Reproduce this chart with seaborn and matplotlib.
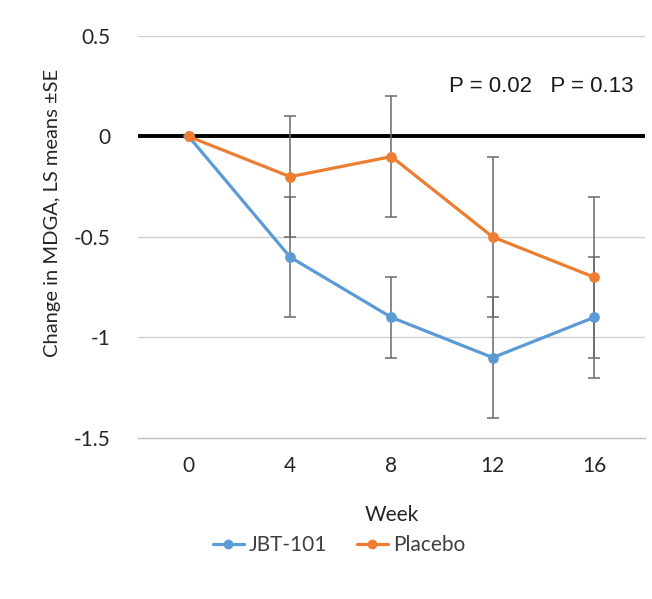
import matplotlib
matplotlib.use("Agg")
import matplotlib.pyplot as plt
import numpy as np
import pandas as pd
import seaborn as sns

weeks = ["0", "4", "8", "12", "16"]
groups = ["JBT-101", "Placebo"]
jbt_mean = [0.0, -0.6, -0.9, -1.1, -0.9]
jbt_se = [0.0, 0.3, 0.2, 0.3, 0.3]
placebo_mean = [0.0, -0.2, -0.1, -0.5, -0.7]
placebo_se = [0.0, 0.3, 0.3, 0.4, 0.4]
y_ticks = [0.5, 0, -0.5, -1, -1.5]
y_tick_labels = ["0.5", "0", "-0.5", "-1", "-1.5"]
p_text = "P = 0.02   P = 0.13"

colors = {"JBT-101": "#5B9BD5", "Placebo": "#ED7D31"}

df = pd.DataFrame(
    {
        "week": weeks * 2,
        "group": [groups[0]] * len(weeks) + [groups[1]] * len(weeks),
        "mean": jbt_mean + placebo_mean,
        "se": jbt_se + placebo_se,
    }
)

sns.set_style("white")
plt.rcParams["font.family"] = ["Lato", "DejaVu Sans"]

fig = plt.figure(figsize=(6.52, 5.99), dpi=100)
ax = fig.add_axes([0.2117, 0.2688, 0.7773, 0.6711])

# gridlines and zero line
for yv in y_ticks:
    if yv in (0, -1.5):
        continue
    ax.axhline(yv, color="#d0d0d0", linewidth=1.0, zorder=0)
ax.axhline(0, color="black", linewidth=2.8, zorder=1)

pos = np.arange(len(weeks))
for grp, mean, se in [("JBT-101", jbt_mean, jbt_se), ("Placebo", placebo_mean, placebo_se)]:
    ax.errorbar(pos, mean, yerr=se, fmt="none", ecolor="#6a6a6a",
                elinewidth=1.1, capsize=4, capthick=1.1, zorder=2)

sns.pointplot(
    data=df, x="week", y="mean", hue="group", order=weeks, hue_order=groups,
    palette=colors, errorbar=None, markers="o", linestyles="-",
    markersize=6, linewidth=2.3, ax=ax, legend=False, zorder=3,
)

ax.set_xlim(-0.5, len(weeks) - 0.5)
ax.set_ylim(-1.5, 0.5)
ax.set_yticks(y_ticks)
ax.set_yticklabels(y_tick_labels)
ax.set_xticks(pos)
ax.set_xticklabels(weeks)
ax.set_xticks(np.arange(-0.5, len(weeks)), minor=True)
ax.tick_params(axis="x", which="major", length=0, pad=13, labelsize=15, labelcolor="#262626")
ax.tick_params(axis="x", which="minor", length=7, width=1.0, color="#bfbfbf", direction="out")
ax.tick_params(axis="y", length=0, pad=20, labelsize=15, labelcolor="#262626")

for side in ["top", "right", "left"]:
    ax.spines[side].set_visible(False)
ax.spines["bottom"].set_color("#bfbfbf")
ax.spines["bottom"].set_linewidth(1.0)

ax.set_xlabel("Week", fontsize=15, color="#262626", labelpad=21)
ax.set_ylabel("Change in MDGA, LS means \u00b1SE", fontsize=14.5, color="#262626")
ax.yaxis.set_label_coords(-0.152, 0.56)

ax.text(0.977, 0.875, p_text, transform=ax.transAxes, ha="right", va="center",
        fontsize=16, family=["Liberation Sans", "DejaVu Sans"], color="#1a1a1a")

handles = [
    plt.Line2D([0], [0], color=colors[g], marker="o", markersize=6, linewidth=2.3)
    for g in groups
]
fig.legend(handles, groups, loc="center", bbox_to_anchor=(0.52, 0.09), ncol=2,
           frameon=False, fontsize=15, handlelength=1.5, handletextpad=0.25,
           columnspacing=1.4, labelcolor="#404040")

fig.savefig("out.png", dpi=100, facecolor="white")
